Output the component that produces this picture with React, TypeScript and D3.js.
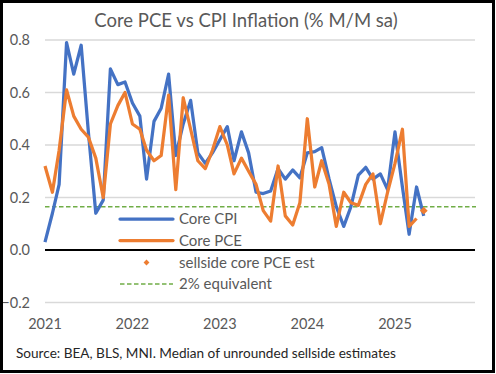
import React, { useEffect, useRef } from 'react';
import * as d3 from 'd3';

// monthly, Jan 2021 .. May 2025
const months: Date[] = d3.timeMonth.range(new Date(2021, 0, 1), new Date(2025, 5, 1));

const coreCPI = [
	0.03, 0.14, 0.25, 0.79, 0.67, 0.78, 0.45, 0.14, 0.19, 0.69, 0.63, 0.64,
	0.56, 0.51, 0.27, 0.49, 0.54, 0.67, 0.36, 0.48, 0.57, 0.37, 0.33, 0.37,
	0.42, 0.47, 0.34, 0.45, 0.37, 0.22, 0.215, 0.225, 0.31, 0.27, 0.305, 0.275,
	0.37, 0.375, 0.39, 0.27, 0.165, 0.09, 0.165, 0.285, 0.315, 0.27, 0.29, 0.23,
	0.45, 0.24, 0.06, 0.24, 0.13
];

const corePCE = [
	0.32, 0.22, 0.38, 0.61, 0.51, 0.46, 0.43, 0.35, 0.2, 0.48, 0.55, 0.6,
	0.48, 0.46, 0.38, 0.34, 0.36, 0.59, 0.23, 0.58, 0.46, 0.34, 0.31, 0.38,
	0.47, 0.4, 0.29, 0.35, 0.3, 0.25, 0.15, 0.11, 0.32, 0.13, 0.095, 0.18,
	0.5, 0.24, 0.34, 0.25, 0.09, 0.22, 0.18, 0.17, 0.25, 0.29, 0.1, 0.22,
	0.33, 0.46, 0.09, 0.12
];

const sellsideEst = [{ date: new Date(2025, 4, 1), value: 0.15 }];
const twoPctEquivalent = 0.165;

const yearLabels = ['2021', '2022', '2023', '2024', '2025'];
const yTicks = [-0.2, 0, 0.2, 0.4, 0.6, 0.8];

const legendItems = ['Core CPI', 'Core PCE', 'sellside core PCE est', '2% equivalent'];

const BLUE = '#4472C4';
const ORANGE = '#ED7D31';
const GREEN = '#70AD47';
const GREY = '#595959';
const FONT = 'Lato, "Open Sans", sans-serif';

const App: React.FC = () => {
	const svgRef = useRef<SVGSVGElement>(null);

	useEffect(() => {
		if (svgRef.current == null) return;
		const width = 496;
		const height = 374;
		const left = 45;
		const right = 475;

		const svg = d3.select(svgRef.current)
			.attr('width', width)
			.attr('height', height);
		svg.selectAll('*').remove();

		svg.append('rect')
			.attr('width', width)
			.attr('height', height)
			.attr('fill', '#fff');

		const x = d3.scaleTime()
			.domain([new Date(2021, 0, 1), new Date(2025, 11, 1)])
			.range([left, right]);
		const y = d3.scaleLinear()
			.domain([-0.2, 0.8])
			.range([302.5, 40]);

		// gridlines
		yTicks.filter(t => t !== 0).forEach(t => {
			svg.append('line')
				.attr('x1', left).attr('x2', right)
				.attr('y1', y(t)).attr('y2', y(t))
				.attr('stroke', '#D9D9D9')
				.attr('stroke-width', 1.5);
		});

		// y tick labels
		svg.append('g')
			.selectAll('text')
			.data(yTicks)
			.join('text')
			.attr('x', 30)
			.attr('y', d => y(d))
			.attr('dy', '0.35em')
			.attr('text-anchor', 'end')
			.attr('font-family', FONT)
			.attr('font-size', 14.5)
			.attr('fill', GREY)
			.text(d => d3.format('.1f')(d));

		// year labels
		svg.append('g')
			.selectAll('text')
			.data(yearLabels)
			.join('text')
			.attr('x', d => x(new Date(+d, 0, 1)))
			.attr('y', 329)
			.attr('text-anchor', 'middle')
			.attr('font-family', FONT)
			.attr('font-size', 14.5)
			.attr('fill', GREY)
			.text(d => d);

		// 2% equivalent
		svg.append('line')
			.attr('x1', left).attr('x2', right + 1)
			.attr('y1', y(twoPctEquivalent)).attr('y2', y(twoPctEquivalent))
			.attr('stroke', GREEN)
			.attr('stroke-width', 1.5)
			.attr('stroke-dasharray', '4.5,2.5');

		// zero axis
		svg.append('line')
			.attr('x1', left).attr('x2', right)
			.attr('y1', y(0)).attr('y2', y(0))
			.attr('stroke', '#000')
			.attr('stroke-width', 2);

		const line = d3.line<number>()
			.x((_, i) => x(months[i]))
			.y(d => y(d));

		svg.append('path')
			.datum(coreCPI)
			.attr('d', line)
			.attr('fill', 'none')
			.attr('stroke', BLUE)
			.attr('stroke-width', 3.25)
			.attr('stroke-linejoin', 'round');

		svg.append('path')
			.datum(corePCE)
			.attr('d', line)
			.attr('fill', 'none')
			.attr('stroke', ORANGE)
			.attr('stroke-width', 3.25)
			.attr('stroke-linejoin', 'round');

		const diamond = d3.symbol().type(d3.symbolDiamond2).size(40);
		svg.append('g')
			.selectAll('path')
			.data(sellsideEst)
			.join('path')
			.attr('transform', d => `translate(${x(d.date)},${y(d.value)})`)
			.attr('d', diamond)
			.attr('fill', ORANGE);

		// legend
		const legend = svg.append('g').attr('font-family', FONT).attr('font-size', 15).attr('fill', GREY);
		const rows = [219, 240.5, 262.5, 284];
		legendItems.forEach((label, i) => {
			const ly = rows[i];
			if (i === 0 || i === 1) {
				legend.append('line')
					.attr('x1', 120).attr('x2', 173)
					.attr('y1', ly).attr('y2', ly)
					.attr('stroke', i === 0 ? BLUE : ORANGE)
					.attr('stroke-width', 3.25)
					.attr('stroke-linecap', 'round');
			} else if (i === 2) {
				legend.append('path')
					.attr('transform', `translate(146.5,${ly})`)
					.attr('d', d3.symbol().type(d3.symbolDiamond2).size(22)())
					.attr('fill', ORANGE);
			} else {
				legend.append('line')
					.attr('x1', 120).attr('x2', 173)
					.attr('y1', ly).attr('y2', ly)
					.attr('stroke', GREEN)
					.attr('stroke-width', 1.5)
					.attr('stroke-dasharray', '4.5,2.5');
			}
			legend.append('text')
				.attr('x', 179)
				.attr('y', ly)
				.attr('dy', '0.35em')
				.text(label);
		});

		// title
		svg.append('text')
			.attr('x', 246)
			.attr('y', 27)
			.attr('text-anchor', 'middle')
			.attr('font-family', FONT)
			.attr('font-size', 18.5)
			.attr('fill', GREY)
			.text('Core PCE vs CPI Inflation (% M/M sa)');

		// source
		svg.append('text')
			.attr('x', 16)
			.attr('y', 358)
			.attr('font-family', FONT)
			.attr('font-size', 13.6)
			.attr('fill', '#262626')
			.text('Source: BEA, BLS, MNI. Median of unrounded sellside estimates');

		// frame
		svg.append('rect')
			.attr('x', 1.5)
			.attr('y', 1.5)
			.attr('width', 492)
			.attr('height', 370)
			.attr('fill', 'none')
			.attr('stroke', '#000')
			.attr('stroke-width', 3);
	}, []);

	return <svg ref={svgRef} style={{ position: 'absolute', left: 0, top: 0, display: 'block' }}></svg>;
};

export default App;
